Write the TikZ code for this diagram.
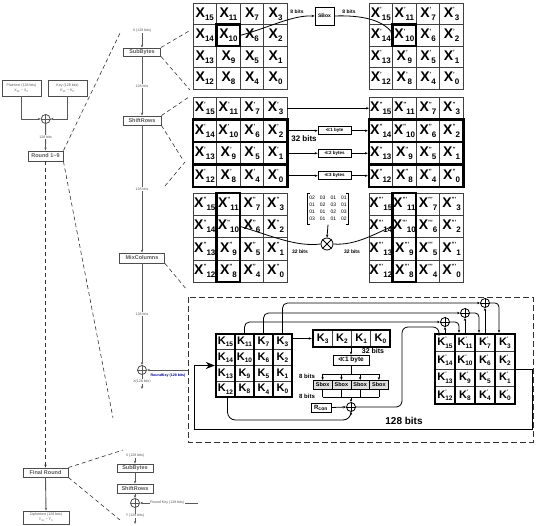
\documentclass[tikz,border=0pt]{standalone}
\usepackage{fontspec}
\setmainfont{Liberation Sans}
\newfontfamily\dejavu{DejaVu Sans}
\usetikzlibrary{arrows.meta}
\newcommand\xl[2]{X{\fontsize{6}{6}\selectfont\raisebox{5.5pt}{#1}}{\fontsize{8}{8}\selectfont\raisebox{-3pt}{#2}}}
\newcommand\kl[2]{K\rlap{\fontsize{5}{5}\selectfont\raisebox{5.1pt}{#1}}{\fontsize{6.5}{6.5}\selectfont\raisebox{-2.2pt}{#2}}}
\newcommand\mkgrid[8]{%
  \foreach \r in {0,1,2,3}{\foreach \c in {0,1,2,3}{%
    \pgfmathtruncatemacro\idx{15-4*\c-\r}%
    \node[#6, minimum width=#4pt, minimum height=#5pt] (#1-\r-\c) at ({#2+\c*#4},{#3+\r*#5}) {#7{#8}{\idx}};
  }}}
\begin{document}
\begin{tikzpicture}[x=1pt,y=-1pt,>={Stealth[length=3pt,width=2.4pt]},
  cell/.style={draw=black!75, line width=0.8pt, inner sep=0pt, outer sep=0pt, anchor=north west, font=\fontsize{14}{14}\selectfont\bfseries},
  kcell/.style={draw=black!75, line width=0.8pt, inner sep=0pt, outer sep=0pt, anchor=north west, font=\fontsize{11}{11}\selectfont\bfseries},
  thickb/.style={draw=black, line width=2.4pt},
  gl/.style={draw=gray!70!black, line width=0.9pt},
  kln/.style={draw=black, line width=0.8pt},
  gbox/.style={draw=gray!60!black, line width=0.9pt, fill=white, inner sep=0pt, text=gray!70!black, font=\fontsize{5.5}{6}\selectfont\bfseries},
  tinyf/.style={font=\fontsize{3.6}{4.6}\selectfont},
  lbl/.style={fill=white, inner sep=0.6pt, text=gray!70!black, font=\fontsize{3.6}{4.6}\selectfont},
  zl/.style={draw=black!80, line width=0.6pt, dash pattern=on 4pt off 3pt},
  xorn/.style={circle, draw, minimum size=9pt, inner sep=0pt, line width=0.8pt},
  rotbox/.style={draw, line width=0.6pt, minimum width=33pt, minimum height=8pt, inner sep=0pt, font=\fontsize{4.5}{5}\selectfont\bfseries},
  bl/.style={font=\fontsize{5}{6}\selectfont\bfseries, inner sep=0.5pt},
  sbx/.style={draw, line width=0.6pt, fill=gray!25, anchor=north west, minimum width=18.75pt, minimum height=9pt, inner sep=0pt, font=\fontsize{5.5}{6}\selectfont\bfseries}]
\useasboundingbox (0,0) rectangle (537,526);

% ---------------- left column ----------------
\node[gbox, tinyf, text=gray!70!black, minimum width=39pt, minimum height=16pt, align=center] (pt) at (21.5,88) {Plaintext (128 bits)\\X\textsubscript{15} \textasciitilde{} X\textsubscript{0}};
\node[gbox, tinyf, text=gray!70!black, minimum width=39pt, minimum height=16pt, align=center] (key) at (67.5,88) {Key (128 bits)\\K\textsubscript{15} \textasciitilde{} K\textsubscript{0}};
\node[xorn, draw=gray!60!black] (x0) at (45.7,119) {};
\draw[gl] (x0.north)--(x0.south) (x0.east)--(x0.west);
\draw[gl,->] (pt.south) |- (x0.west);
\draw[gl,->] (key.south) |- (x0.east);
\node[gbox, minimum width=35pt, minimum height=10pt] (r19) at (45.5,156) {Round 1\textasciitilde9};
\draw[gl,->] (x0.south) -- (r19.north) node[midway, lbl] {128 bits};
\node[gbox, minimum width=45pt, minimum height=9pt] (fr) at (45.5,472.5) {Final Round};
\draw[zl,->] (r19.south) -- (fr.north);
\node[gbox, tinyf, text=gray!70!black, minimum width=46pt, minimum height=13pt, align=center] (ct) at (46,517.5) {Ciphertext (128 bits)\\Y\textsubscript{15} \textasciitilde{} Y\textsubscript{0}};
\draw[gl,->] (fr.south) -- (ct.north);

% zoom lines
\draw[zl] (r19.north east) -- (121,31);
\draw[zl] (r19.south east) -- (113,418);
\draw[zl] (fr.north east) -- (123,450);
\draw[zl] (fr.south east) -- (120,520);

% ---------------- middle column ----------------
\node[lbl] (xin) at (142,31) {X (128 bits)};
\node[gbox, minimum width=37pt, minimum height=8pt] (subb) at (142,52) {SubBytes};
\draw[gl,->] (xin.south) -- (subb.north);
\node[gbox, minimum width=38pt, minimum height=9pt] (shr) at (142,120.5) {ShiftRows};
\draw[gl,->] (subb.south) -- (shr.north) node[midway,lbl]{128 bits};
\node[gbox, minimum width=45pt, minimum height=10pt] (mc) at (142,258) {MixColumns};
\draw[gl,->] (shr.south) -- (mc.north) node[midway,lbl]{128 bits};
\node[xorn, draw=gray!60!black] (x1) at (142,370) {};
\draw[gl] (x1.north)--(x1.south) (x1.east)--(x1.west);
\draw[gl,->] (mc.south) -- (x1.north) node[midway,lbl]{128 bits};
\coordinate (xo) at (142,389);
\draw[gl,->] (x1.south) -- (xo) node[pos=0.45,lbl]{X(128 bits)};
\coordinate (rk) at (188,370);
\draw[gl,->] (rk) -- (x1.east);
\node[inner sep=0pt, text=blue!60!black, font=\fontsize{3.6}{4}\selectfont\bfseries] (rkl) at (168,375.5) {RoundKey (128 bits)};

\draw[zl] (subb.north east) -- (189,31);
\draw[zl] (subb.south east) -- (190,90);
\draw[zl] (shr.north east) -- (189,97);
\draw[zl] (shr.south east) -- (183,160);
\draw[zl] (165,186) -- (185,162);
\draw[zl] (mc.south east) -- (187,290);

% ---------------- bottom column ----------------
\node[lbl] (xin2) at (135,456) {X (128 bits)};
\node[gbox, minimum width=36pt, minimum height=8pt] (subb2) at (135,468) {SubBytes};
\node[gbox, minimum width=36pt, minimum height=9pt] (shr2) at (135,488.5) {ShiftRows};
\node[xorn, draw=gray!60!black] (x2) at (135,503) {};
\draw[gl] (x2.north)--(x2.south) (x2.east)--(x2.west);
\draw[gl,->] (xin2.south) -- (subb2.north);
\draw[gl,->] (subb2.south) -- (shr2.north);
\draw[gl,->] (shr2.south) -- (x2.north);
\coordinate (yend) at (135,524);
\draw[gl,->] (x2.south) -- (yend) node[pos=0.5,lbl]{Y (128 bits)};
\coordinate (rk2) at (198,503);
\draw[gl,->] (rk2) -- (x2.east) node[pos=0.53,lbl]{Round Key (128 bits)};

% ---------------- SubBytes grids ----------------
\mkgrid{g1}{193}{3}{23.6}{21.6}{cell}{\xl}{}
\mkgrid{g2}{369}{3}{23.6}{21.6}{cell}{\xl}{'}
\draw[thickb] (g1-1-1.north west) rectangle (g1-1-1.south east);
\draw[thickb] (g2-1-1.north west) rectangle (g2-1-1.south east);
\node[draw, line width=0.8pt, minimum width=19pt, minimum height=18pt, inner sep=0pt, font=\fontsize{5}{5}\selectfont\bfseries] (sbox) at (324.5,16) {SBox};
\draw[kln,->] (g1-1-1.east) .. controls (268,28) and (292,15) .. (sbox.west);
\draw[kln,->] (sbox.east) .. controls (362,15) and (382,20) .. ([yshift=2pt]g2-1-1.west);
\node[bl] (b8a) at (297,12) {8 bits};
\node[bl] (b8b) at (349,12) {8 bits};

% ---------------- ShiftRows grids ----------------
\mkgrid{g3}{193}{97}{23.6}{22.5}{cell}{\xl}{'}
\mkgrid{g4}{369}{97}{23.6}{22.5}{cell}{\xl}{''}
\foreach \r in {1,2,3}{
  \draw[thickb] (g3-\r-0.north west) rectangle (g3-\r-3.south east);
  \draw[thickb] (g4-\r-0.north west) rectangle (g4-\r-3.south east);
}
\draw[kln,->] (g3-0-3.east) -- (g4-0-0.west);
\foreach \r/\t in {1/1 byte,2/2 bytes,3/3 bytes}{
  \node[rotbox] (rs\r) at (334.5,{97+22.5*(\r+0.5)}) {{\dejavu ≪}\t};
  \draw[kln,->] ([xshift=1.2pt]g3-\r-3.east) -- (rs\r.west);
  \draw[kln,->] (rs\r.east) -- ([xshift=-1.2pt]g4-\r-0.west);
}
\node[font=\fontsize{8}{8}\selectfont\bfseries, inner sep=0pt] (b32a) at (304,138.5) {32 bits};

% ---------------- MixColumns grids ----------------
\mkgrid{g5}{193}{193}{23.6}{22.3}{cell}{\xl}{''}
\mkgrid{g6}{369}{193}{23.6}{22.3}{cell}{\xl}{'''}
\draw[thickb] (g5-0-1.north west) rectangle (g5-3-1.south east);
\draw[thickb] (g6-0-1.north west) rectangle (g6-3-1.south east);
\node[font=\fontsize{5}{7}\selectfont, inner sep=1.5pt] (mat) at (328,209) {\begin{tabular}{@{}c@{\hspace{5pt}}c@{\hspace{5pt}}c@{\hspace{5pt}}c@{}}02&03&01&01\\01&02&03&01\\01&01&02&03\\03&01&01&02\end{tabular}};
\draw[line width=0.5pt] ([xshift=2pt]mat.north west) -- (mat.north west) -- (mat.south west) -- ([xshift=2pt]mat.south west);
\draw[line width=0.5pt] ([xshift=-2pt]mat.north east) -- (mat.north east) -- (mat.south east) -- ([xshift=-2pt]mat.south east);
\node[xorn, minimum size=12pt] (mx) at (327,244) {};
\draw[line width=0.8pt] (mx.north east) -- (mx.south west) (mx.north west) -- (mx.south east);
\draw[kln,->] (mat.south) -- (mx.north);
\draw[kln] (g5-1-1.east) .. controls (272,236) and (296,247) .. (mx.west);
\draw[kln,->] (mx.east) .. controls (356,246) and (378,232) .. (g6-1-1.west);
\node[bl] (b32b) at (300,252) {32 bits};
\node[bl] (b32c) at (352,252) {32 bits};

% ---------------- Key expansion ----------------
\draw[draw=black!80, line width=0.8pt, dash pattern=on 6pt off 3pt] (188,297) rectangle (533,442);
\mkgrid{kg}{216}{334}{19}{15.75}{kcell}{\kl}{}
\mkgrid{kp}{435}{334}{20}{17.5}{kcell}{\kl}{'}
\foreach \c in {0,1,2,3}{
  \draw[thickb] (kg-0-\c.north west) rectangle (kg-3-\c.south east);
  \draw[thickb] (kp-0-\c.north west) rectangle (kp-3-\c.south east);
}
\foreach \i/\n in {0/3,1/2,2/1,3/0}{
  \node[kcell, minimum width=19.25pt, minimum height=17pt] (kr-\i) at ({313+\i*19.25},330) {\kl{}{\n}};
}
\draw[thickb] (kr-0.north west) rectangle (kr-3.south east);
\draw[kln,->] ([xshift=1.2pt]kg-0-3.east |- kr-0.west) -- ([xshift=-1.2pt]kr-0.west);
\node[draw, line width=0.8pt, minimum width=36pt, minimum height=10pt, inner sep=0pt, font=\fontsize{6.5}{7}\selectfont\bfseries] (rot) at (351,360) {{\dejavu ≪}1 byte};
\draw[kln,->] ([yshift=-1.2pt]rot.north |- kr-0.south) -- (rot.north);
\node[font=\fontsize{7}{7}\selectfont\bfseries, inner sep=0pt] (b32k) at (373,351) {32 bits};
\foreach \i in {0,1,2,3}{
  \node[sbx] (sb-\i) at ({313+\i*18.75},380) {Sbox};
}
\coordinate (dd) at (351,374);
\draw[kln] (rot.south) -- (dd);
\draw[kln] (sb-0.north |- dd) -- (sb-3.north |- dd);
\foreach \i in {0,1,2,3}{\draw[kln,->] (sb-\i.north |- dd) -- (sb-\i.north);}
\coordinate (ee) at (351,397);
\foreach \i in {0,1,2,3}{\draw[kln] (sb-\i.south) -- (sb-\i.south |- ee);}
\draw[kln] (sb-0.south |- ee) -- (sb-3.south |- ee);
\node[xorn] (kx) at (351,407) {};
\draw[line width=0.8pt] (kx.north)--(kx.south) (kx.east)--(kx.west);
\draw[kln,->] (ee) -- (kx.north);
\node[font=\fontsize{6}{6}\selectfont\bfseries, inner sep=0pt] (b8c) at (307,376) {8 bits};
\node[font=\fontsize{6}{6}\selectfont\bfseries, inner sep=0pt] (b8d) at (307,396) {8 bits};
\node[draw, line width=0.8pt, minimum width=20pt, minimum height=9pt, inner sep=0pt, font=\fontsize{6}{6}\selectfont\bfseries] (rcon) at (321,407.5) {R\textsubscript{con}};
\draw[kln,->] (rcon.east) -- (kx.west);
\draw[kln,->, rounded corners=8pt] ([xshift=2pt]kg-3-0.south) -- ++(0,23) -| (kx.south);
\draw[kln,->, rounded corners=6pt] (kx.east) -- (402,407) -- (402,327) -- (439,327) -- ([xshift=4pt,yshift=1.2pt]kp-0-0.north west);
% column xors
\node[xorn] (kxa) at (445,322) {};
\node[xorn] (kxb) at (465,313) {};
\node[xorn] (kxc) at (485,303) {};
\foreach \n in {kxa,kxb,kxc}{\draw[line width=0.8pt] (\n.north)--(\n.south) (\n.east)--(\n.west);}
\draw[kln,->, rounded corners=5pt] ([yshift=1.2pt]kg-0-1.north) |- (kxa.west);
\draw[kln,->, rounded corners=5pt] ([yshift=1.2pt]kg-0-2.north) |- (kxb.west);
\draw[kln,->, rounded corners=5pt] ([yshift=1.2pt]kg-0-3.north) |- (kxc.west);
\draw[kln,->] ([yshift=1.2pt]kp-0-0.north) -- (kxa.south);
\draw[kln,->] ([yshift=1.2pt]kp-0-1.north) -- (kxb.south);
\draw[kln,->] ([yshift=1.2pt]kp-0-2.north) -- (kxc.south);
\draw[kln,->, rounded corners=4pt] (kxa.east) -| ([xshift=4pt,yshift=1.2pt]kp-0-1.north west);
\draw[kln,->, rounded corners=4pt] (kxb.east) -| ([xshift=4pt,yshift=1.2pt]kp-0-2.north west);
\draw[kln,->, rounded corners=4pt] (kxc.east) -| ([xshift=4pt,yshift=1.2pt]kp-0-3.north west);
% feedback
\draw[line width=1pt, -{Stealth[length=9pt,width=7pt]}] ([xshift=1.2pt]kp-1-3.south east) -- (532,369) -- (532,429) -- (194,429) |- ([xshift=-1.2pt]kg-1-0.south west);
\node[font=\fontsize{10}{10}\selectfont\bfseries, inner sep=0pt] (b128) at (404,421) {128 bits};
\end{tikzpicture}
\end{document}
